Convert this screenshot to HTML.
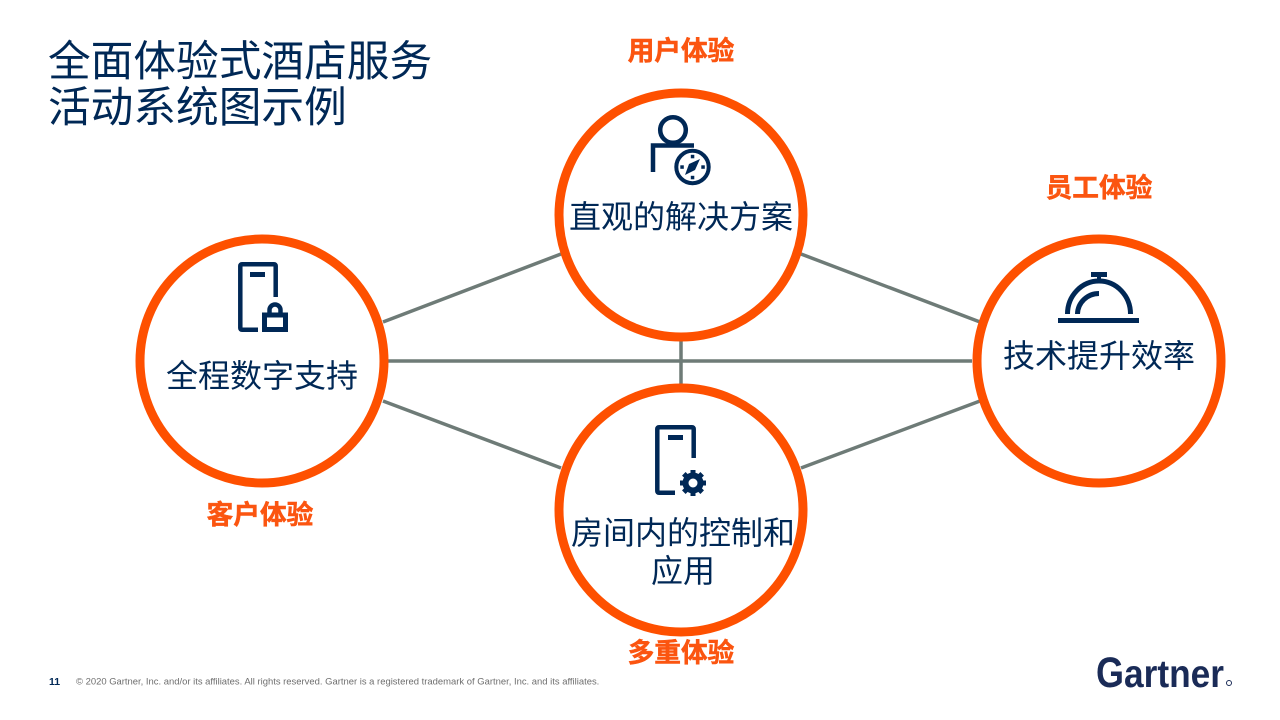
<!DOCTYPE html>
<html><head><meta charset="utf-8"><style>
html,body{margin:0;padding:0;background:#fff}
svg{display:block}
text{font-family:"Liberation Sans","Noto Sans CJK SC",sans-serif}
.t{font-size:42.7px;fill:#002856}
.n{font-size:32px;fill:#002856;text-anchor:middle}
.o{font-size:26.7px;font-weight:700;fill:#fb5510;stroke:#fb5510;stroke-width:.5;text-anchor:middle}
.i{fill:none;stroke:#002856;stroke-width:4.500}
</style></head><body>
<svg width="1280" height="720" viewBox="0 0 1280 720" xmlns="http://www.w3.org/2000/svg">
<g stroke="#6e7b77" stroke-width="3.500" fill="none">
<path d="M383 322L561 254M801 254L980 322M383 401L561 468M801 468L980 401M388 361H972M681 341V385"/>
</g>
<g fill="#fff" stroke="#fe5000" stroke-width="9">
<circle cx="681" cy="215" r="122"/>
<circle cx="262" cy="361" r="122"/>
<circle cx="1099" cy="361" r="122"/>
<circle cx="681" cy="510" r="122"/>
</g>
<text class="t" x="48" y="76">全面体验式酒店服务</text>
<text class="t" x="48" y="122">活动系统图示例</text>
<text class="o" x="681" y="60">用户体验</text>
<text class="o" x="1099" y="197">员工体验</text>
<text class="o" x="260" y="524">客户体验</text>
<text class="o" x="681" y="662">多重体验</text>
<text class="n" x="681" y="228">直观的解决方案</text>
<text class="n" x="262" y="387">全程数字支持</text>
<text class="n" x="1099" y="367">技术提升效率</text>
<text class="n" x="683" y="544">房间内的控制和</text>
<text class="n" x="683" y="582">应用</text>
<!-- user compass icon -->
<circle class="i" cx="673" cy="130" r="12.800"/>
<path class="i" d="M653 172V145.500H694"/>
<circle cx="692.500" cy="167" r="16.200" fill="#fff" stroke="#002856" stroke-width="4"/>
<path d="M700 159L695 170L685 175L689 164Z" fill="#002856"/>
<g fill="#002856"><rect x="690.800" y="154.800" width="3.500" height="3.500"/><rect x="690.800" y="175.800" width="3.500" height="3.500"/><rect x="680.300" y="165.300" width="3.500" height="3.500"/><rect x="701.300" y="165.300" width="3.500" height="3.500"/></g>
<!-- phone lock icon -->
<path class="i" d="M258 329.700H242Q240.300 329.700 240.300 328V266Q240.300 264.300 242 264.300H274Q275.700 264.300 275.700 266V297"/>
<rect x="250" y="272" width="15" height="5" fill="#002856"/>
<rect x="264.500" y="315" width="21" height="14.500" fill="#fff" stroke="#002856" stroke-width="5"/>
<path class="i" d="M269.500 315V310A5.500 5.500 0 0 1 280.500 310V315"/>
<!-- service bell -->
<path d="M1067.500 314A31.500 33 0 0 1 1130.500 314" fill="none" stroke="#002856" stroke-width="5"/>
<path d="M1077.500 314A21.500 21 0 0 1 1099 293.500" fill="none" stroke="#002856" stroke-width="5"/>
<rect x="1058" y="318" width="81" height="5" fill="#002856"/>
<rect x="1091" y="272" width="16" height="5" fill="#002856"/>
<rect x="1097" y="276" width="4" height="7" fill="#002856"/>
<!-- phone gear -->
<path class="i" d="M675 492.700H659Q657.300 492.700 657.300 491V429Q657.300 427.300 659 427.300H692Q693.700 427.300 693.700 429V458"/>
<rect x="668" y="435" width="15" height="5" fill="#002856"/>
<circle cx="693" cy="483" r="7.500" fill="none" stroke="#002856" stroke-width="6"/>
<g stroke="#002856" stroke-width="5"><path d="M693 470V475.500M693 490.500V496M680 483H685.500M700.500 483H706M683.800 473.800L687.700 477.700M698.300 488.300L702.200 492.200M702.200 473.800L698.300 477.700M687.700 488.300L683.800 492.200"/></g>
<!-- footer -->
<text x="49" y="685" font-size="10.500" font-weight="700" fill="#002856">11</text>
<text x="76" y="684.500" font-size="9.450" fill="#6e6e6e">© 2020 Gartner, Inc. and/or its affiliates. All rights reserved. Gartner is a registered trademark of Gartner, Inc. and its affiliates.</text>
<text x="1096" y="687" font-size="43" font-weight="700" fill="#1a2b57" textLength="28" lengthAdjust="spacingAndGlyphs">G</text>
<text x="1124" y="687" font-size="39" font-weight="700" fill="#1a2b57" textLength="100" lengthAdjust="spacingAndGlyphs">artner</text>
<circle cx="1229" cy="683" r="2.500" fill="none" stroke="#1a2b57" stroke-width="1"/>
</svg>
</body></html>
